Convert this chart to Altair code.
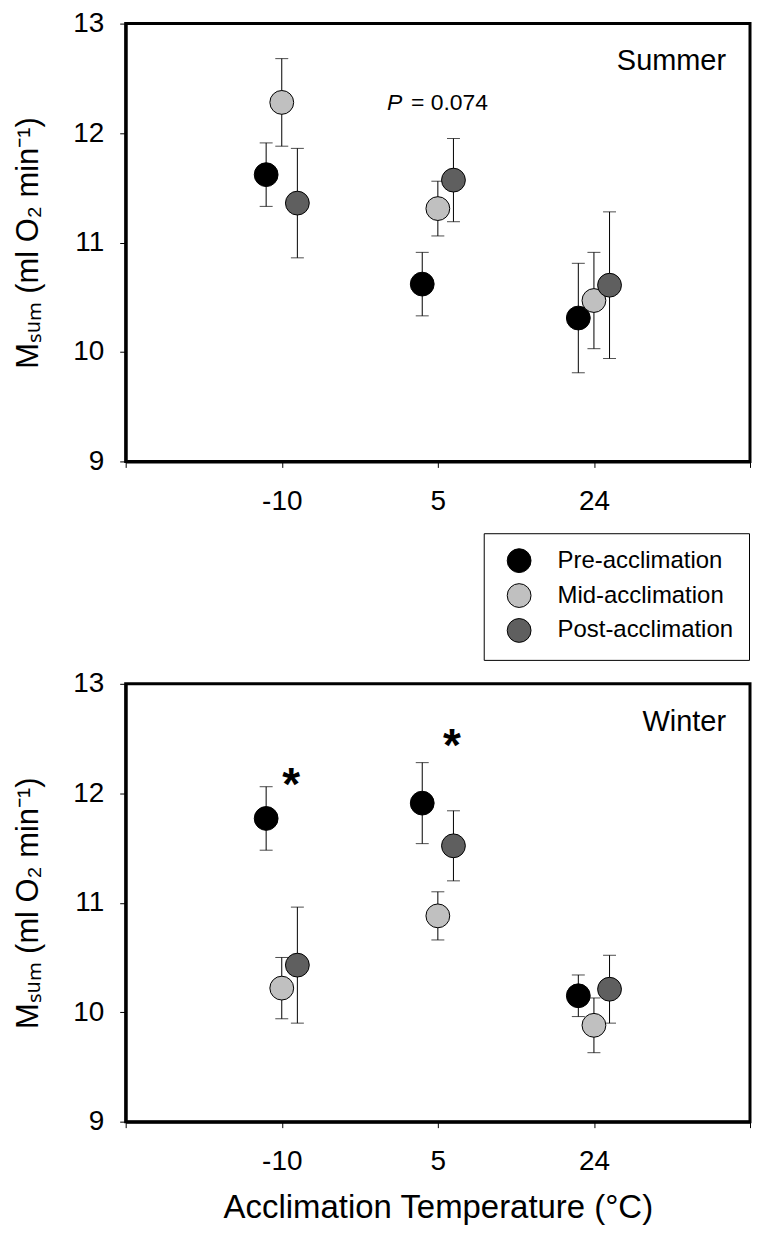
import altair as alt
import pandas as pd

# ---------------- data ----------------
temps = ["-10", "5", "24"]
groups = ["Pre-acclimation", "Mid-acclimation", "Post-acclimation"]
colors = ["#000000", "#c0c0c0", "#5f5f5f"]
offsets = [-0.1, 0.0, 0.1]
seasons = ["Summer", "Winter"]

summer_pre = [11.62, 10.62, 10.31]
summer_pre_se = [0.29, 0.29, 0.50]
summer_mid = [12.28, 11.31, 10.47]
summer_mid_se = [0.40, 0.25, 0.44]
summer_post = [11.36, 11.57, 10.61]
summer_post_se = [0.50, 0.38, 0.67]

winter_pre = [11.77, 11.91, 10.15]
winter_pre_se = [0.29, 0.37, 0.19]
winter_mid = [10.22, 10.88, 9.88]
winter_mid_se = [0.28, 0.22, 0.25]
winter_post = [10.43, 11.52, 10.21]
winter_post_se = [0.53, 0.32, 0.31]

y_ticks = [9, 10, 11, 12, 13]
p_text = "= 0.074"

FONT = "Liberation Sans"
W, H = 626, 439


def make_df(means, ses):
    rows = []
    for g, (m, s) in enumerate(zip(means, ses)):
        for i, t in enumerate(temps):
            rows.append({
                "group": groups[g], "order": g, "temp": t,
                "xpos": i + 1 + offsets[g], "value": m[i],
                "lo": m[i] - s[i], "hi": m[i] + s[i],
            })
    return pd.DataFrame(rows)


summer = make_df([summer_pre, summer_mid, summer_post],
                 [summer_pre_se, summer_mid_se, summer_post_se])
winter = make_df([winter_pre, winter_mid, winter_post],
                 [winter_pre_se, winter_mid_se, winter_post_se])

label_expr = " : ".join(
    [f"datum.value == {i + 1} ? '{t}'" for i, t in enumerate(temps)]) + " : ''"

Y_TITLE = "M\u209b\u1d64\u2098 (ml O\u2082 min\u207b\u00b9)"


def panel(df, season, show_legend, x_title):
    xscale = alt.Scale(domain=[0, 4], nice=False, zero=False)
    yscale = alt.Scale(domain=[9, 13], nice=False, zero=False)
    xaxis = alt.Axis(values=[0, 1, 2, 3, 4], labelExpr=label_expr,
                     title=x_title if x_title else "", labelPadding=20,
                     titlePadding=16, titleFontSize=33)
    yaxis = alt.Axis(values=y_ticks, title=Y_TITLE, labelPadding=16,
                     titlePadding=28, titleFontSize=31)

    def X(f):
        return alt.X(f, type="quantitative", scale=xscale, axis=xaxis)

    def Y(f):
        return alt.Y(f, type="quantitative", scale=yscale, axis=yaxis)

    base = alt.Chart(df)
    rules = base.mark_rule(color="black", strokeWidth=1).encode(
        x=X("xpos"), y=Y("lo"), y2="hi")
    cap_lo = base.mark_tick(orient="horizontal", size=13, thickness=1,
                            color="black").encode(x=X("xpos"), y=Y("lo"))
    cap_hi = base.mark_tick(orient="horizontal", size=13, thickness=1,
                            color="black").encode(x=X("xpos"), y=Y("hi"))
    legend = alt.Legend(
        title=None, orient="none", legendX=359, legendY=511,
        padding=15, symbolOffset=8, labelOffset=26, rowPadding=6,
        symbolSize=570, symbolType="circle", symbolStrokeColor="black",
        symbolStrokeWidth=1, labelFontSize=24, labelFont=FONT,
        labelLimit=400, labelColor="black", strokeColor="black",
        fillColor="white",
    ) if show_legend else None
    pts = base.mark_circle(size=570, stroke="black", strokeWidth=1,
                           opacity=1).encode(
        x=X("xpos"), y=Y("value"),
        fill=alt.Fill("group:N", scale=alt.Scale(domain=groups, range=colors),
                      legend=legend),
        order=alt.Order("order:Q"),
    )
    one = pd.DataFrame({"t": [season]})
    season_txt = alt.Chart(one).mark_text(
        align="right", baseline="alphabetic", fontSize=29, font=FONT,
        color="black").encode(x=alt.value(602), y=alt.value(47), text="t:N")
    return alt.layer(rules, cap_lo, cap_hi, pts, season_txt).properties(
        width=W, height=H)


top = panel(summer, seasons[0], True, None)
p_it = alt.Chart(pd.DataFrame({"t": ["P"]})).mark_text(
    align="left", baseline="alphabetic", fontSize=23, font=FONT,
    fontStyle="italic", color="black").encode(
    x=alt.value(262), y=alt.value(87), text="t:N")
p_val = alt.Chart(pd.DataFrame({"t": [p_text]})).mark_text(
    align="left", baseline="alphabetic", fontSize=23, font=FONT,
    color="black").encode(x=alt.value(286), y=alt.value(87), text="t:N")
top = alt.layer(top, p_it, p_val)

bottom = panel(winter, seasons[1], False, "Acclimation Temperature (\u00b0C)")
stars = alt.Chart(pd.DataFrame({"t": ["*", "*"],
                                "px": [166, 327], "py": [116, 77]})).mark_text(
    align="center", baseline="alphabetic", fontSize=46, font=FONT,
    fontWeight="bold", color="black").encode(
    x=alt.X("px:Q", scale=None), y=alt.Y("py:Q", scale=None), text="t:N")
bottom = alt.layer(bottom, stars)

chart = alt.vconcat(top, bottom, spacing=6).resolve_legend(
    fill="independent").properties(
    padding={"left": 3, "top": -2, "right": 0, "bottom": 0}
).configure_view(stroke="black", strokeWidth=3).configure_axis(
    domainColor="black", domainWidth=3, tickColor="black", tickWidth=1,
    tickSize=6, labelFontSize=28, labelColor="black", labelFont=FONT,
    titleFont=FONT, titleColor="black", titleFontWeight="normal",
    grid=False,
)

chart.save("out.html", embed_options={"renderer": "svg", "actions": False})
